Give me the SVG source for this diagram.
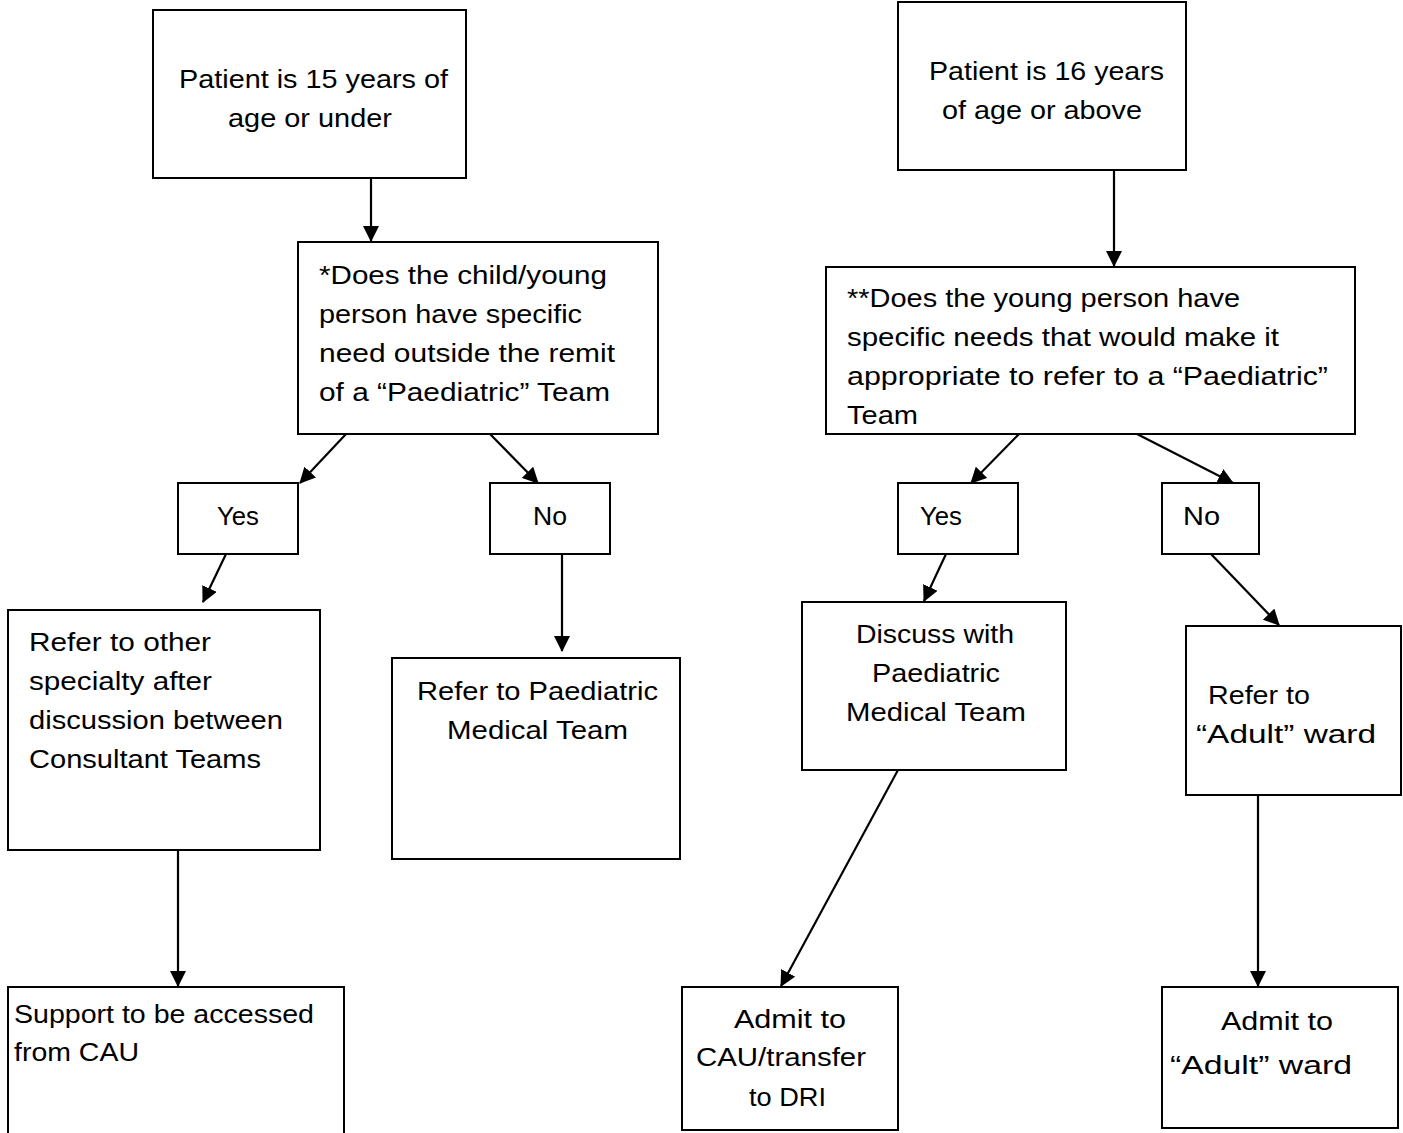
<svg xmlns="http://www.w3.org/2000/svg" width="1403" height="1133" viewBox="0 0 1403 1133">
<style>
.box{fill:#fff;stroke:#000;stroke-width:2}
.t{font-family:"Liberation Sans","Noto Sans",sans-serif;font-size:25px;fill:#000}
.cn{fill:none;stroke:#000;stroke-width:2.2}
</style>
<defs>
<marker id="ah" markerUnits="userSpaceOnUse" markerWidth="16" markerHeight="16" refX="15" refY="8" orient="auto">
<path d="M0,0 L16,8 L0,16 Z" fill="#000"/>
</marker>
</defs>
<rect width="1403" height="1133" fill="#fff"/>
<g id="connectors">
<line class="cn" x1="371" y1="178" x2="371" y2="241" marker-end="url(#ah)"/>
<line class="cn" x1="346" y1="434" x2="300" y2="483" marker-end="url(#ah)"/>
<line class="cn" x1="490" y1="434" x2="538" y2="483" marker-end="url(#ah)"/>
<line class="cn" x1="226" y1="554" x2="203" y2="602" marker-end="url(#ah)"/>
<line class="cn" x1="562" y1="554" x2="562" y2="651" marker-end="url(#ah)"/>
<line class="cn" x1="178" y1="850" x2="178" y2="986" marker-end="url(#ah)"/>
<line class="cn" x1="1114" y1="170" x2="1114" y2="266" marker-end="url(#ah)"/>
<line class="cn" x1="1019" y1="434" x2="971" y2="483" marker-end="url(#ah)"/>
<line class="cn" x1="1137" y1="434" x2="1233" y2="483" marker-end="url(#ah)"/>
<line class="cn" x1="946" y1="554" x2="924" y2="601" marker-end="url(#ah)"/>
<line class="cn" x1="1211" y1="554" x2="1279" y2="625" marker-end="url(#ah)"/>
<line class="cn" x1="898" y1="770" x2="781" y2="986" marker-end="url(#ah)"/>
<line class="cn" x1="1258" y1="795" x2="1258" y2="986" marker-end="url(#ah)"/>
</g>
<g id="n-under15">
<rect class="box" x="153" y="10" width="313" height="168"/>
<text class="t" x="179" y="88" textLength="269" lengthAdjust="spacingAndGlyphs">Patient is 15 years of</text>
<text class="t" x="228" y="127" textLength="164" lengthAdjust="spacingAndGlyphs">age or under</text>
</g>
<g id="n-q1">
<rect class="box" x="298" y="242" width="360" height="192"/>
<text class="t" x="319" y="284" textLength="288" lengthAdjust="spacingAndGlyphs">*Does the child/young</text>
<text class="t" x="319" y="323" textLength="263" lengthAdjust="spacingAndGlyphs">person have specific</text>
<text class="t" x="319" y="362" textLength="296" lengthAdjust="spacingAndGlyphs">need outside the remit</text>
<text class="t" x="319" y="401" textLength="291" lengthAdjust="spacingAndGlyphs">of a “Paediatric” Team</text>
</g>
<g id="n-yes1">
<rect class="box" x="178" y="483" width="120" height="71"/>
<text class="t" x="217" y="525" textLength="42" lengthAdjust="spacingAndGlyphs">Yes</text>
</g>
<g id="n-no1">
<rect class="box" x="490" y="483" width="120" height="71"/>
<text class="t" x="533" y="525" textLength="34" lengthAdjust="spacingAndGlyphs">No</text>
</g>
<g id="n-refer-other">
<rect class="box" x="8" y="610" width="312" height="240"/>
<text class="t" x="29" y="651" textLength="182" lengthAdjust="spacingAndGlyphs">Refer to other</text>
<text class="t" x="29" y="690" textLength="183" lengthAdjust="spacingAndGlyphs">specialty after</text>
<text class="t" x="29" y="729" textLength="254" lengthAdjust="spacingAndGlyphs">discussion between</text>
<text class="t" x="29" y="768" textLength="232" lengthAdjust="spacingAndGlyphs">Consultant Teams</text>
</g>
<g id="n-refer-paed">
<rect class="box" x="392" y="658" width="288" height="201"/>
<text class="t" x="417" y="700" textLength="241" lengthAdjust="spacingAndGlyphs">Refer to Paediatric</text>
<text class="t" x="447" y="739" textLength="181" lengthAdjust="spacingAndGlyphs">Medical Team</text>
</g>
<g id="n-support">
<rect class="box" x="8" y="987" width="336" height="160"/>
<text class="t" x="14" y="1023" textLength="300" lengthAdjust="spacingAndGlyphs">Support to be accessed</text>
<text class="t" x="14" y="1061" textLength="125" lengthAdjust="spacingAndGlyphs">from CAU</text>
</g>
<g id="n-over16">
<rect class="box" x="898" y="2" width="288" height="168"/>
<text class="t" x="929" y="80" textLength="235" lengthAdjust="spacingAndGlyphs">Patient is 16 years</text>
<text class="t" x="942" y="119" textLength="200" lengthAdjust="spacingAndGlyphs">of age or above</text>
</g>
<g id="n-q2">
<rect class="box" x="826" y="267" width="529" height="167"/>
<text class="t" x="847" y="307" textLength="393" lengthAdjust="spacingAndGlyphs">**Does the young person have</text>
<text class="t" x="847" y="346" textLength="432" lengthAdjust="spacingAndGlyphs">specific needs that would make it</text>
<text class="t" x="847" y="385" textLength="481" lengthAdjust="spacingAndGlyphs">appropriate to refer to a “Paediatric”</text>
<text class="t" x="847" y="424" textLength="71" lengthAdjust="spacingAndGlyphs">Team</text>
</g>
<g id="n-yes2">
<rect class="box" x="898" y="483" width="120" height="71"/>
<text class="t" x="920" y="525" textLength="42" lengthAdjust="spacingAndGlyphs">Yes</text>
</g>
<g id="n-no2">
<rect class="box" x="1162" y="483" width="97" height="71"/>
<text class="t" x="1183" y="525" textLength="37" lengthAdjust="spacingAndGlyphs">No</text>
</g>
<g id="n-discuss">
<rect class="box" x="802" y="602" width="264" height="168"/>
<text class="t" x="856" y="643" textLength="158" lengthAdjust="spacingAndGlyphs">Discuss with</text>
<text class="t" x="872" y="682" textLength="128" lengthAdjust="spacingAndGlyphs">Paediatric</text>
<text class="t" x="846" y="721" textLength="180" lengthAdjust="spacingAndGlyphs">Medical Team</text>
</g>
<g id="n-refer-adult">
<rect class="box" x="1186" y="626" width="215" height="169"/>
<text class="t" x="1208" y="704" textLength="102" lengthAdjust="spacingAndGlyphs">Refer to</text>
<text class="t" x="1196" y="743" textLength="180" lengthAdjust="spacingAndGlyphs">“Adult” ward</text>
</g>
<g id="n-admit-cau">
<rect class="box" x="682" y="987" width="216" height="143"/>
<text class="t" x="734" y="1028" textLength="112" lengthAdjust="spacingAndGlyphs">Admit to</text>
<text class="t" x="696" y="1066" textLength="170" lengthAdjust="spacingAndGlyphs">CAU/transfer</text>
<text class="t" x="749" y="1106" textLength="77" lengthAdjust="spacingAndGlyphs">to DRI</text>
</g>
<g id="n-admit-adult">
<rect class="box" x="1162" y="987" width="236" height="141"/>
<text class="t" x="1221" y="1030" textLength="112" lengthAdjust="spacingAndGlyphs">Admit to</text>
<text class="t" x="1170" y="1074" textLength="182" lengthAdjust="spacingAndGlyphs">“Adult” ward</text>
</g>
</svg>
